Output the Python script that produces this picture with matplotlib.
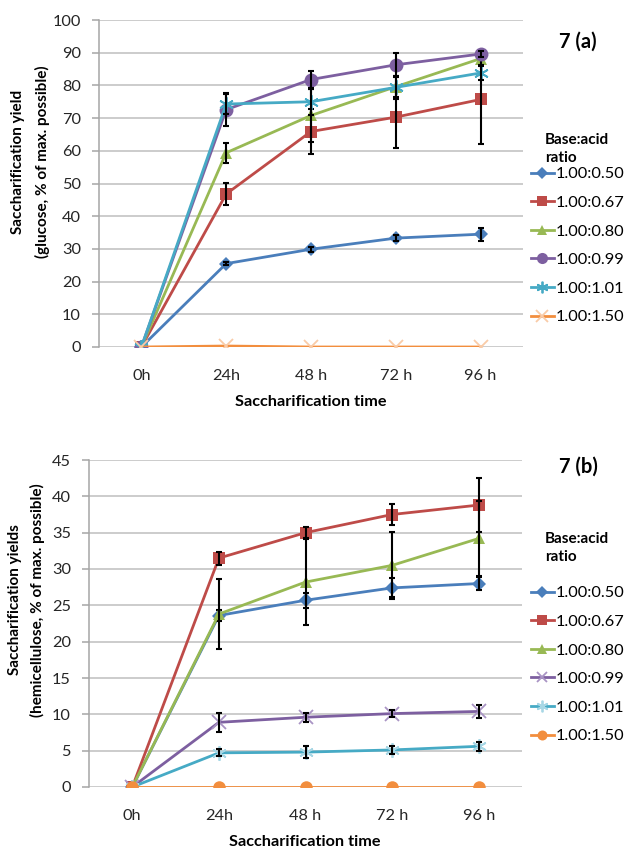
import matplotlib.pyplot as plt

plt.rcParams['font.family'] = ['Lato', 'DejaVu Sans']

#---    Data
times = ['0h', '24h', '48 h', '72 h', '96 h']
ratios = ['1.00:0.50', '1.00:0.67', '1.00:0.80', '1.00:0.99', '1.00:1.01', '1.00:1.50']

# 7 (a) glucose yield
glu_050 = [0, 25.5, 29.9, 33.3, 34.5]
glu_067 = [0, 46.8, 65.9, 70.3, 75.7]
glu_080 = [0, 59.4, 70.8, 79.6, 88.2]
glu_099 = [0, 72.6, 81.8, 86.3, 89.6]
glu_101 = [0, 74.3, 75.0, 79.4, 83.8]
glu_150 = [0, 0.3, 0, 0, 0]

glu_050_err = [0, 0.5, 0.8, 0.8, 2.0]
glu_067_err = [0, 3.5, 6.9, 9.3, 13.7]
glu_080_err = [0, 3.0, 8.0, 3.0, 2.0]
glu_099_err = [0, 5.0, 2.5, 3.5, 1.0]
glu_101_err = [0, 3.0, 4.0, 3.5, 2.0]
glu_150_err = [0, 0, 0, 0, 0]

# 7 (b) hemicellulose yield
hem_050 = [0, 23.6, 25.7, 27.4, 28.0]
hem_067 = [0, 31.5, 35.0, 37.5, 38.8]
hem_080 = [0, 23.8, 28.2, 30.5, 34.2]
hem_099 = [0, 8.9, 9.6, 10.1, 10.4]
hem_101 = [0, 4.7, 4.8, 5.1, 5.6]
hem_150 = [0, 0, 0, 0, 0]

hem_050_err = [0, 0.8, 1.0, 1.3, 0.9]
hem_067_err = [0, 0.9, 0.8, 1.4, 3.7]
hem_080_err = [0, 4.8, 5.9, 4.6, 5.2]
hem_099_err = [0, 1.3, 0.6, 0.5, 0.9]
hem_101_err = [0, 0.5, 0.8, 0.5, 0.6]
hem_150_err = [0, 0, 0, 0, 0]

colors = ['#4A7EBB', '#BE4B48', '#98B954', '#7D5FA0', '#46AAC5', '#F28E3E']
star = (6, 2, 0)

def panel(ax, series, errs, markers, msizes, medge):
    x = range(len(times))
    for k in range(len(series)):
        line_only = markers[k] in ('x', star)
        ax.plot(x, series[k], color=colors[k], lw=2.0, marker=markers[k],
                ms=msizes[k], mew=1.3 if line_only else 0,
                mec=medge[k], mfc=colors[k], zorder=3 + k)
        idx = [i for i in x if errs[k][i] > 0]
        if idx:
            ax.errorbar(idx, [series[k][i] for i in idx], yerr=[errs[k][i] for i in idx],
                        fmt='none', ecolor='black', elinewidth=1.5, capsize=2,
                        capthick=1.5, zorder=3 + k)
    ax.set_xlim(-0.5, len(times) - 0.5)
    ax.set_xticks(list(x))
    ax.set_xticklabels(times)
    ax.grid(axis='y', color='#BEBEBE', lw=1.1)
    ax.set_axisbelow(True)
    for s in ['top', 'right', 'bottom']:
        ax.spines[s].set_visible(False)
    ax.spines['left'].set_color('#A6A6A6')
    ax.spines['left'].set_linewidth(1.1)
    ax.tick_params(axis='y', length=5, width=1.1, color='#A6A6A6', labelsize=11.8, pad=8,
                   labelcolor='#262626')
    ax.tick_params(axis='x', length=0, labelsize=11.8, pad=16, labelcolor='#262626')


fig = plt.figure(figsize=(6.25, 8.49), dpi=100)
W, H = 625, 849

def pix_axes(x0, y0, x1, y1):
    return fig.add_axes([x0 / W, 1 - y1 / H, (x1 - x0) / W, (y1 - y0) / H])

ax1 = pix_axes(99, 20, 523, 347)
ax2 = pix_axes(89, 460, 522, 787)

ax1.set_ylim(0, 100)
ax1.set_yticks(range(0, 101, 10))
ax2.set_ylim(0, 45)
ax2.set_yticks(range(0, 46, 5))

panel(ax1, [glu_050, glu_067, glu_080, glu_099, glu_101, glu_150],
      [glu_050_err, glu_067_err, glu_080_err, glu_099_err, glu_101_err, glu_150_err],
      ['D', 's', '^', 'o', star, 'x'], [7.5, 8.5, 9, 10, 10.5, 10.5],
      colors[:5] + ['#F9CBA7'])
panel(ax2, [hem_050, hem_067, hem_080, hem_099, hem_101, hem_150],
      [hem_050_err, hem_067_err, hem_080_err, hem_099_err, hem_101_err, hem_150_err],
      ['D', 's', '^', 'x', star, 'o'], [7.5, 8.5, 9, 9.5, 10.5, 9],
      colors[:3] + ['#A994C4', '#A7D7E5', colors[5]])

# axis titles
fig.text(18 / W, 1 - 162 / H, 'Saccharification yield', rotation=90, ha='center', va='center',
         fontsize=11, fontweight='bold')
fig.text(42 / W, 1 - 162 / H, '(glucose, % of max. possible)', rotation=90, ha='center', va='center',
         fontsize=11, fontweight='bold')
fig.text(15 / W, 1 - 600 / H, 'Saccharification yields', rotation=90, ha='center', va='center',
         fontsize=11, fontweight='bold')
fig.text(37 / W, 1 - 600 / H, '(hemicellulose, % of max. possible)', rotation=90, ha='center', va='center',
         fontsize=11, fontweight='bold')
fig.text(311 / W, 1 - 402 / H, 'Saccharification time', ha='center', va='center',
         fontsize=11.7, fontweight='bold')
fig.text(305 / W, 1 - 842 / H, 'Saccharification time', ha='center', va='center',
         fontsize=11.7, fontweight='bold')

fig.text(578 / W, 1 - 42 / H, '7 (a)', ha='center', va='center', fontsize=14.5, fontweight='bold')
fig.text(578 / W, 1 - 467 / H, '7 (b)', ha='center', va='center', fontsize=14.5, fontweight='bold')

for ax, ytitle, yleg in [(ax1, 149, 167), (ax2, 548, 586)]:
    fig.text(545 / W, 1 - ytitle / H, 'Base:acid\nratio', ha='left', va='center',
             fontsize=11, fontweight='bold', linespacing=1.35)
    lines = [l for l in ax.get_lines() if len(l.get_xdata()) == len(times)]
    fig.legend(lines, ratios, loc='upper left', bbox_to_anchor=(531 / W, 1 - yleg / H),
               frameon=False, fontsize=11.8, handlelength=1.4, handletextpad=0.1,
               labelspacing=0.86, borderpad=0, borderaxespad=0, markerscale=0.8)

plt.savefig('out.png', dpi=100)
